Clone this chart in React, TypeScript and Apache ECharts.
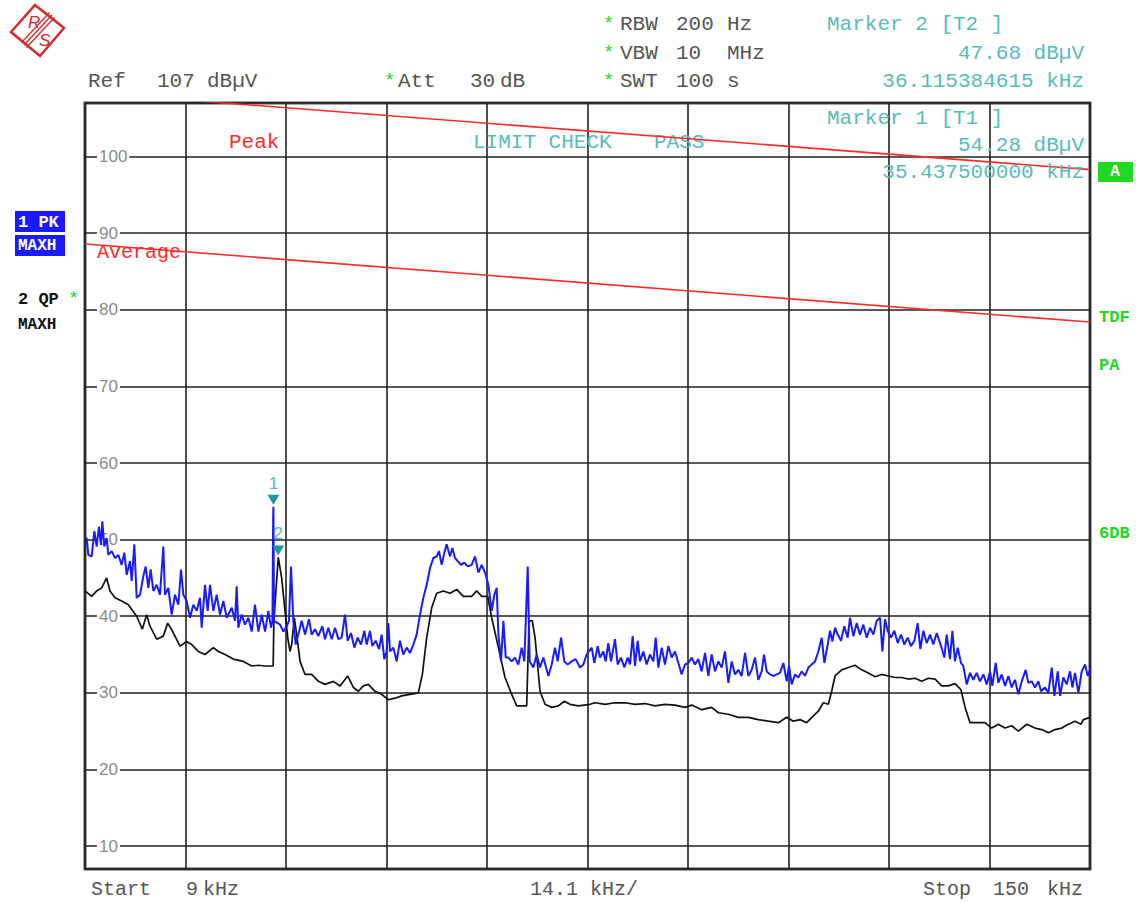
import React, { useEffect, useRef } from "react";
import * as echarts from "echarts";

// ---------- axis settings ----------
const X_START = 9; // kHz
const X_STOP = 150; // kHz
const X_DIV = 14.1; // kHz per division
const Y_MIN = 7; // dBµV (bottom)
const Y_REF = 107; // dBµV (reference level, top)

// ---------- traces: [frequency kHz, level dBµV] ----------
const pkMaxhTrace: [number, number][] = [
  [9.0, 50.2], [9.23, 50.2], [9.47, 48.0], [9.94, 47.8], [10.31, 51.1], [10.64, 49.1], [10.96, 51.7], [11.24, 49.3],
  [11.43, 52.4], [11.71, 49.1], [12.04, 50.2], [12.27, 48.0], [12.74, 48.5], [13.21, 47.6], [13.68, 48.0], [14.14, 46.7],
  [14.52, 48.3], [14.85, 45.4], [15.31, 47.2], [15.55, 44.6], [15.92, 49.4], [16.25, 42.4], [16.72, 42.8], [17.18, 45.2],
  [17.51, 46.5], [17.89, 43.7], [18.21, 46.1], [18.59, 43.3], [19.06, 44.1], [19.52, 42.8], [19.99, 49.1], [20.22, 42.8],
  [20.69, 43.7], [21.16, 40.2], [21.63, 42.8], [22.1, 41.5], [22.47, 46.1], [22.8, 42.8], [23.26, 42.0], [23.73, 39.8],
  [24.2, 41.5], [24.67, 40.7], [25.14, 42.4], [25.37, 38.5], [25.84, 44.1], [26.21, 40.7], [26.54, 44.1], [27.01, 40.7],
  [27.47, 42.8], [27.94, 40.2], [28.41, 42.0], [28.88, 39.8], [29.58, 41.1], [30.05, 39.4], [30.28, 43.9], [30.51, 38.5],
  [30.98, 40.2], [31.45, 38.9], [31.92, 39.8], [32.39, 38.0], [32.85, 41.5], [33.32, 38.0], [33.79, 40.2], [34.26, 38.0],
  [34.72, 40.7], [35.1, 38.5], [35.3, 39.4], [35.4, 53.0], [35.4375, 54.28], [35.52, 39.4], [36.36, 38.9], [36.83, 38.0],
  [37.3, 38.7], [37.62, 39.4], [37.9, 46.5], [38.23, 39.4], [38.56, 36.3], [38.93, 37.6], [39.4, 39.4], [39.87, 37.6],
  [40.43, 39.6], [40.8, 37.6], [41.27, 38.3], [41.74, 37.4], [42.3, 38.7], [42.67, 37.0], [43.14, 38.5], [43.61, 37.0],
  [44.08, 38.5], [44.55, 37.0], [45.01, 37.2], [45.48, 40.2], [45.85, 36.8], [46.32, 37.8], [46.79, 35.9], [47.26, 37.2],
  [47.72, 36.3], [48.19, 38.1], [48.52, 36.3], [48.99, 38.1], [49.31, 36.1], [49.78, 36.8], [50.25, 35.7], [50.62, 37.6],
  [50.99, 34.4], [51.32, 35.4], [51.56, 39.1], [51.79, 35.4], [52.26, 35.9], [52.73, 34.1], [53.19, 36.8], [53.66, 35.0],
  [54.13, 35.9], [54.6, 35.2], [55.07, 36.3], [55.53, 37.6], [56.0, 40.2], [56.47, 42.4], [56.94, 44.1], [57.41, 46.3],
  [57.87, 47.6], [58.34, 47.8], [58.67, 48.5], [59.04, 46.7], [59.42, 48.3], [59.74, 49.4], [60.21, 47.8], [60.54, 48.9],
  [60.91, 47.6], [61.29, 47.2], [61.75, 46.7], [62.22, 47.0], [62.69, 46.5], [63.25, 46.7], [63.72, 47.8], [64.19, 45.7],
  [64.66, 46.7], [65.12, 45.7], [65.59, 44.1], [66.06, 40.7], [66.43, 42.8], [66.76, 43.7], [67.0, 37.6], [67.37, 34.1],
  [67.7, 39.4], [68.03, 34.6], [68.4, 34.6], [68.87, 34.1], [69.33, 34.6], [69.8, 33.7], [70.27, 35.9], [70.64, 34.1],
  [71.11, 46.5], [71.39, 34.1], [71.9, 33.3], [72.37, 35.0], [72.84, 33.3], [73.31, 34.6], [74.01, 32.2], [74.48, 33.7],
  [74.94, 35.9], [75.32, 34.1], [75.79, 37.2], [76.25, 34.1], [76.72, 33.7], [77.28, 34.1], [77.84, 34.4], [78.45, 33.3],
  [78.92, 33.7], [79.38, 35.0], [80.09, 35.9], [80.46, 33.9], [80.93, 36.1], [81.25, 34.6], [81.72, 35.4], [82.05, 34.1],
  [82.42, 36.5], [82.8, 34.1], [83.36, 37.0], [83.73, 33.7], [84.2, 34.6], [84.67, 33.3], [85.14, 34.6], [85.46, 33.7],
  [85.84, 37.4], [86.17, 33.5], [86.54, 36.8], [86.87, 34.1], [87.33, 35.4], [87.8, 33.7], [88.27, 35.0], [88.74, 34.1],
  [89.07, 37.2], [89.44, 33.3], [89.91, 35.9], [90.37, 33.7], [90.84, 36.1], [91.31, 34.6], [91.78, 35.4], [92.25, 33.9],
  [92.71, 32.4], [93.18, 33.7], [93.65, 33.9], [94.12, 34.6], [94.58, 33.7], [95.05, 34.4], [95.52, 32.8], [95.99, 35.2],
  [96.45, 32.2], [96.92, 35.0], [97.39, 32.8], [97.86, 34.1], [98.33, 33.3], [98.79, 35.4], [99.26, 31.3], [99.73, 34.1],
  [100.2, 32.4], [100.66, 33.0], [101.13, 32.2], [101.6, 35.2], [102.07, 32.2], [102.54, 33.0], [103.0, 34.6], [103.47, 31.7],
  [103.94, 32.8], [104.26, 35.0], [104.64, 32.8], [105.11, 32.4], [105.57, 32.2], [106.04, 32.4], [106.51, 32.6], [106.98, 33.9],
  [107.45, 31.5], [107.77, 33.5], [108.15, 31.1], [108.62, 32.4], [109.08, 32.0], [109.55, 32.8], [110.02, 32.2], [110.49, 33.3],
  [110.95, 33.7], [111.42, 34.1], [111.89, 35.4], [112.36, 37.2], [112.73, 33.9], [113.2, 36.3], [113.53, 38.1], [113.85, 36.7],
  [114.23, 38.5], [114.6, 37.6], [115.07, 36.8], [115.53, 38.7], [116.0, 37.2], [116.33, 39.8], [116.8, 37.4], [117.27, 39.1],
  [117.73, 37.6], [118.2, 38.9], [118.67, 37.2], [119.14, 38.5], [119.61, 37.6], [120.07, 39.4], [120.54, 39.8], [120.87, 35.4],
  [121.24, 39.6], [121.61, 38.1], [122.08, 37.2], [122.55, 38.1], [123.02, 36.5], [123.49, 37.6], [123.95, 36.3], [124.42, 37.2],
  [124.89, 36.1], [125.36, 36.8], [125.82, 39.1], [126.2, 35.7], [126.62, 38.1], [127.09, 36.5], [127.56, 37.6], [128.02, 36.3],
  [128.49, 37.8], [129.1, 36.1], [129.57, 34.6], [129.89, 37.6], [130.36, 34.4], [130.69, 38.1], [131.06, 34.1], [131.44, 35.9],
  [131.9, 33.9], [132.23, 33.5], [132.7, 31.1], [133.17, 32.6], [133.63, 31.7], [134.1, 32.6], [134.57, 31.5], [135.04, 32.4],
  [135.51, 31.1], [135.97, 32.8], [136.3, 30.9], [136.77, 33.9], [137.14, 31.3], [137.61, 32.4], [138.08, 30.9], [138.55, 32.2],
  [139.01, 30.7], [139.48, 31.7], [139.95, 29.8], [140.42, 31.5], [140.98, 33.0], [141.35, 31.3], [141.82, 31.5], [142.29, 30.7],
  [142.76, 31.5], [143.13, 30.2], [143.69, 30.7], [144.16, 30.0], [144.63, 33.3], [145.0, 29.6], [145.47, 32.8], [145.8, 29.6],
  [146.26, 32.0], [146.73, 31.1], [147.2, 32.8], [147.53, 30.7], [147.9, 32.6], [148.37, 30.0], [148.84, 32.8], [149.3, 33.7],
  [149.68, 32.2], [150.0, 33.0],
];

const qpMaxhTrace: [number, number][] = [
  [9.0, 43.3], [9.94, 42.6], [10.64, 43.3], [11.34, 43.7], [12.04, 45.0], [12.51, 43.3], [13.21, 42.4], [14.14, 42.0],
  [15.08, 41.5], [16.25, 40.0], [17.04, 38.3], [17.65, 40.2], [18.12, 38.7], [19.06, 37.0], [19.99, 37.4], [20.6, 39.1],
  [21.25, 38.1], [22.33, 36.1], [23.26, 36.7], [23.97, 36.3], [24.9, 35.4], [25.84, 35.0], [27.01, 35.9], [27.71, 35.4],
  [28.64, 35.0], [29.81, 34.4], [31.22, 34.1], [32.39, 33.5], [33.32, 33.6], [34.26, 33.5], [35.4, 33.5], [35.5, 39.4],
  [36.115384615, 47.68], [36.59, 45.0], [37.06, 40.7], [37.44, 37.2], [37.76, 35.4], [38.0, 36.3], [38.37, 39.8], [38.7, 37.6],
  [39.17, 34.1], [39.87, 32.4], [40.8, 32.4], [41.74, 31.5], [42.67, 31.1], [43.84, 31.5], [44.78, 30.9], [45.85, 32.2],
  [46.65, 30.7], [47.35, 30.2], [48.05, 30.9], [48.75, 31.1], [49.69, 30.2], [50.62, 29.8], [51.56, 29.1], [52.49, 29.3],
  [53.43, 29.6], [54.6, 29.8], [55.77, 30.0], [56.33, 32.4], [56.94, 37.2], [57.64, 41.1], [58.34, 43.0], [59.28, 43.3],
  [60.21, 43.0], [61.15, 43.5], [62.08, 42.6], [63.25, 42.6], [63.95, 43.3], [64.66, 42.6], [65.5, 42.6], [66.06, 39.8],
  [67.0, 35.9], [67.93, 32.0], [68.87, 29.8], [69.57, 28.3], [70.97, 28.3], [71.3, 39.4], [71.76, 39.4], [72.14, 37.2],
  [72.84, 30.2], [73.54, 28.5], [74.48, 28.1], [75.41, 28.3], [76.25, 28.9], [77.05, 28.5], [78.21, 28.3], [79.85, 28.5],
  [80.55, 28.7], [81.96, 28.5], [83.36, 28.7], [84.76, 28.7], [86.17, 28.5], [87.57, 28.6], [88.97, 28.3], [90.37, 28.5],
  [91.78, 28.4], [93.18, 28.1], [94.12, 28.4], [95.52, 27.8], [96.92, 28.1], [97.86, 27.4], [99.26, 27.2], [100.66, 26.8],
  [102.07, 26.8], [103.47, 26.5], [104.87, 26.3], [106.28, 26.1], [107.45, 26.8], [108.38, 26.3], [109.32, 26.5], [110.25, 26.1],
  [111.19, 27.0], [111.89, 27.6], [112.59, 28.7], [113.29, 28.5], [113.76, 30.2], [114.23, 32.2], [115.16, 33.0], [116.1, 33.3],
  [117.03, 33.6], [117.97, 33.0], [118.9, 32.6], [119.84, 32.1], [120.77, 32.4], [121.71, 32.2], [122.64, 32.0], [123.58, 32.0],
  [124.51, 31.8], [125.45, 31.9], [126.39, 31.5], [127.32, 31.9], [128.26, 31.8], [129.19, 30.9], [130.13, 30.9], [131.06, 31.2],
  [131.9, 30.4], [132.47, 28.1], [133.17, 26.1], [134.1, 26.1], [135.27, 26.1], [136.21, 25.4], [137.14, 25.9], [138.08, 25.4],
  [139.01, 25.7], [139.95, 25.0], [141.12, 25.9], [142.29, 25.4], [143.22, 25.2], [144.16, 24.8], [145.09, 25.2], [146.03, 25.4],
  [146.96, 25.9], [147.9, 26.3], [148.74, 25.9], [149.07, 26.5], [150.0, 26.8],
];

// ---------- limit lines ----------
const peakLimit: [number, number][] = [[9, 108.4], [150, 98.3]];
const averageLimit: [number, number][] = [[9, 88.6], [150, 78.4]];

// ---------- markers ----------
const markers = [
  { id: "1", trace: "T1", freq: 35.4375, level: 54.28 },
  { id: "2", trace: "T2", freq: 36.115384615, level: 47.68 },
];

// ---------- header texts ----------
const settingRows = [
  { name: "RBW", value: "200", unit: "Hz" },
  { name: "VBW", value: "10", unit: "MHz" },
  { name: "SWT", value: "100", unit: "s" },
];

const MONO = '"Liberation Mono", "DejaVu Sans Mono", monospace';
const GREY = "#555";
const TEAL = "#57bcbc";
const RED = "#ff2a2a";
const GREEN = "#22d822";
const BLUE = "#1a1aff";

function txt(x: number, y: number, text: string, fill: string, opts: any = {}) {
  return {
    type: "text",
    x,
    y,
    z: opts.z ?? 50,
    silent: true,
    style: {
      text,
      fill,
      fontSize: opts.fontSize ?? 21,
      fontFamily: opts.fontFamily ?? MONO,
      fontWeight: opts.fontWeight ?? "normal",
      fontStyle: opts.fontStyle ?? "normal",
      align: opts.align ?? "left",
      textAlign: opts.align ?? "left",
      verticalAlign: "middle",
      textVerticalAlign: "middle",
    },
  };
}

export default function App() {
  const ref = useRef<HTMLDivElement>(null);

  useEffect(() => {
    if (!ref.current) return;
    const chart = echarts.init(ref.current, undefined, { renderer: "svg" });

    const graphics: any[] = [];

    // Rohde & Schwarz style logo
    graphics.push({
      type: "polygon",
      z: 50,
      shape: { points: [[11, 32], [35, 5], [64, 28], [40, 56]] },
      style: { fill: "#fff", stroke: "#d42a2a", lineWidth: 2.5 },
    });
    [-2.5, 0, 2.5].forEach((d) =>
      graphics.push({
        type: "line",
        z: 51,
        shape: { x1: 52 + d, y1: 15 + d, x2: 24 + d, y2: 45 + d },
        style: { stroke: "#d42a2a", lineWidth: 1.3 },
      })
    );
    graphics.push(txt(28, 22, "R", "#d42a2a", { fontSize: 17, fontFamily: "Liberation Sans", fontStyle: "italic" }));
    graphics.push(txt(39, 40, "S", "#d42a2a", { fontSize: 17, fontFamily: "Liberation Sans", fontStyle: "italic" }));

    // top-left header
    graphics.push(txt(88, 81, "Ref", GREY));
    graphics.push(txt(157, 81, String(Y_REF), GREY));
    graphics.push(txt(207, 81, "dBµV", GREY));
    graphics.push(txt(384, 81, "*", GREEN, { fontSize: 19 }));
    graphics.push(txt(398, 81, "Att", GREY));
    graphics.push(txt(470, 81, "30", GREY));
    graphics.push(txt(500, 81, "dB", GREY));

    // settings
    const rowY = [24, 53, 81];
    settingRows.forEach((r, i) => {
      graphics.push(txt(603, rowY[i], "*", GREEN, { fontSize: 19 }));
      graphics.push(txt(620, rowY[i], r.name, GREY));
      graphics.push(txt(676, rowY[i], r.value, GREY));
      graphics.push(txt(727, rowY[i], r.unit, GREY));
    });

    // marker readouts
    const m2 = markers[1];
    const m1 = markers[0];
    graphics.push(txt(827, 24, `Marker ${m2.id} [${m2.trace} ]`, TEAL));
    graphics.push(txt(1084, 53, `${m2.level.toFixed(2)} dBµV`, TEAL, { align: "right" }));
    graphics.push(txt(1084, 81, `${m2.freq.toFixed(9)} kHz`, TEAL, { align: "right" }));
    graphics.push(txt(827, 118, `Marker ${m1.id} [${m1.trace} ]`, TEAL));
    graphics.push(txt(1084, 145, `${m1.level.toFixed(2)} dBµV`, TEAL, { align: "right" }));
    graphics.push(txt(1084, 172, `${m1.freq.toFixed(9)} kHz`, TEAL, { align: "right" }));

    // in-plot labels
    graphics.push(txt(229, 142, "Peak", RED, { z: 1 }));
    graphics.push(txt(97, 252, "Average", RED, { z: 1, fontSize: 20 }));
    graphics.push(txt(473, 142, "LIMIT CHECK", TEAL, { z: 1 }));
    graphics.push(txt(654, 142, "PASS", TEAL, { z: 1 }));

    // left trace labels
    graphics.push({ type: "rect", z: 50, shape: { x: 15, y: 211, width: 50, height: 21 }, style: { fill: BLUE } });
    graphics.push({ type: "rect", z: 50, shape: { x: 15, y: 235, width: 50, height: 21 }, style: { fill: BLUE } });
    graphics.push(txt(18, 222, "1 PK", "#fff", { fontSize: 17, fontWeight: "bold" }));
    graphics.push(txt(18, 246, "MAXH", "#fff", { fontSize: 16, fontWeight: "bold" }));
    graphics.push(txt(18, 299, "2 QP", "#111", { fontSize: 17, fontWeight: "bold" }));
    graphics.push(txt(68, 299, "*", GREEN, { fontSize: 19 }));
    graphics.push(txt(18, 325, "MAXH", "#111", { fontSize: 16, fontWeight: "bold" }));

    // right side indicators
    graphics.push({ type: "rect", z: 50, shape: { x: 1098, y: 162, width: 35, height: 20 }, style: { fill: GREEN } });
    graphics.push(txt(1115, 172, "A", "#fff", { fontSize: 16, fontWeight: "bold", align: "center" }));
    graphics.push(txt(1099, 317, "TDF", GREEN, { fontSize: 17, fontWeight: "bold" }));
    graphics.push(txt(1099, 365, "PA", GREEN, { fontSize: 17, fontWeight: "bold" }));
    graphics.push(txt(1099, 533, "6DB", GREEN, { fontSize: 17, fontWeight: "bold" }));

    // bottom
    graphics.push(txt(91, 889, "Start", GREY, { fontSize: 20 }));
    graphics.push(txt(186, 889, String(X_START), GREY, { fontSize: 20 }));
    graphics.push(txt(203, 889, "kHz", GREY, { fontSize: 20 }));
    graphics.push(txt(530, 889, `${X_DIV} kHz/`, GREY, { fontSize: 20 }));
    graphics.push(txt(923, 889, "Stop", GREY, { fontSize: 20 }));
    graphics.push(txt(993, 889, String(X_STOP), GREY, { fontSize: 20 }));
    graphics.push(txt(1047, 889, "kHz", GREY, { fontSize: 20 }));

    const markPointFor = (m: typeof markers[number]) => ({
      symbol: "triangle",
      symbolRotate: 180,
      symbolSize: [12, 10],
      symbolOffset: [0, -7],
      silent: true,
      itemStyle: { color: "#1f9a9a" },
      label: {
        show: true,
        position: "top",
        distance: 3,
        formatter: m.id,
        color: TEAL,
        fontSize: 17,
        fontFamily: "Liberation Sans",
      },
      data: [{ coord: [m.freq, m.level] }],
    });

    chart.setOption({
      animation: false,
      backgroundColor: "#fff",
      grid: {
        left: 85,
        right: 46,
        top: 103,
        bottom: 34,
        show: true,
        borderColor: "#4a4a4a",
        borderWidth: 3,
        backgroundColor: "transparent",
      },
      xAxis: {
        type: "value",
        min: X_START,
        max: X_STOP,
        interval: X_DIV,
        axisLine: { show: false },
        axisTick: { show: false },
        axisLabel: { show: false },
        splitLine: { show: true, lineStyle: { color: "#222", width: 1.6 } },
      },
      yAxis: {
        type: "value",
        min: Y_MIN,
        max: Y_REF,
        splitNumber: 10,
        axisLine: { show: false },
        axisTick: { show: false },
        axisLabel: {
          inside: true,
          margin: 12,
          showMinLabel: false,
          showMaxLabel: false,
          color: "#8a8a8a",
          fontSize: 17,
          fontFamily: "Liberation Sans",
          backgroundColor: "#fff",
          padding: [0, 2],
          formatter: (v: number) => (Math.abs(v % 10) < 1e-6 ? String(Math.round(v)) : ""),
        },
        splitLine: { show: true, lineStyle: { color: "#222", width: 1.6 } },
      },
      series: [
        {
          name: "2 QP MAXH",
          type: "line",
          data: qpMaxhTrace,
          showSymbol: false,
          symbol: "none",
          z: 3,
          lineStyle: { color: "#111", width: 1.7 },
          markPoint: markPointFor(markers[1]),
        },
        {
          name: "1 PK MAXH",
          type: "line",
          data: pkMaxhTrace,
          showSymbol: false,
          symbol: "none",
          z: 4,
          lineStyle: { color: BLUE, width: 2 },
          markPoint: markPointFor(markers[0]),
        },
        {
          name: "Peak limit",
          type: "line",
          data: peakLimit,
          showSymbol: false,
          symbol: "none",
          z: 5,
          lineStyle: { color: RED, width: 1.6 },
        },
        {
          name: "Average limit",
          type: "line",
          data: averageLimit,
          showSymbol: false,
          symbol: "none",
          z: 5,
          lineStyle: { color: RED, width: 1.6 },
        },
      ],
      graphic: graphics,
    });

    return () => chart.dispose();
  }, []);

  return (
    <div
      ref={ref}
      style={{ position: "absolute", left: 0, top: 0, width: 1136, height: 903, background: "#fff" }}
    />
  );
}
